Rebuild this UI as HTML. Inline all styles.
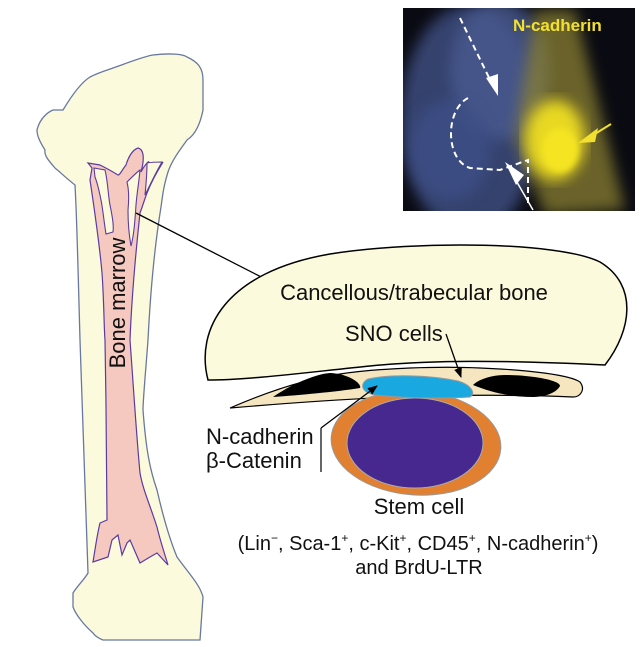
<!DOCTYPE html>
<html><head><meta charset="utf-8"><style>
body{margin:0;background:#fff;}
svg{display:block;font-family:"Liberation Sans",sans-serif;}
</style></head><body>
<svg width="640" height="647" viewBox="0 0 640 647" xmlns="http://www.w3.org/2000/svg">
<defs>
<filter id="bf"><feGaussianBlur stdDeviation="7"/></filter>
<filter id="bf2"><feGaussianBlur stdDeviation="3"/></filter>
<clipPath id="cp"><rect x="403" y="8" width="232" height="203"/></clipPath>
<marker id="ah" markerWidth="10" markerHeight="8" refX="9" refY="4" orient="auto" markerUnits="userSpaceOnUse"><path d="M0,0 L10,4 L0,8 z" fill="#000"/></marker>
</defs>
<!-- bone -->
<path d="M37,130 C40,118 48,112 53,110 L63,110 C72,95 82,82 90,77 C100,72 108,70 113,68 C130,62 145,56 153,55 C170,53 183,54 187,57 C198,62 203,68 203,80 L203,110 C200,125 195,135 187,140 C180,150 172,160 168,172 C164,185 163,192 161,207 C154,250 150,300 148,340 C145,380 143,400 143,410 C146,450 150,470 157,490 C165,525 172,545 177,557 C190,575 200,585 203,597 L200,640 L103,640 C98,638 95,636 93,633 C84,625 76,615 73,607 L73,593 C78,585 84,580 88,573 C86,500 83,420 80,340 C78,270 77,220 75,185 C66,178 60,172 55,168 C48,160 44,155 45,150 C40,142 37,136 37,130 Z" fill="#fcfadc" stroke="#6878a0" stroke-width="1.3"/>
<!-- marrow -->
<path d="M88,163 L92,168 L90,180 C96,220 100,250 102,273 C104,300 104,330 105,340 C106,400 107,470 107,520 L100,523 C97,535 95,550 93,562 L108,557 L112,540 L118,535 L122,555 L127,543 L130,540 L140,563 L150,557 L157,553 L168,565 C165,555 160,540 157,527 C150,505 143,490 140,473 C136,430 133,380 130,340 C132,290 136,250 140,213 C143,205 145,198 147,193 C152,180 158,170 163,162 L150,176 C148,168 150,160 148,162 C145,165 142,170 141,172 C143,165 146,150 138,148 C132,150 128,158 126,165 C122,170 120,175 118,175 C110,170 106,168 100,165 Z" fill="#f5c8c0" stroke="#5a3ca0" stroke-width="1.2"/>
<path d="M94,168 L105,170 C108,182 108,195 110,205 C112,215 114,225 113,232 L106,234 C104,222 103,210 101,200 C99,190 97,182 95,177 Z" fill="#fcfadc" stroke="#5a3ca0" stroke-width="1.1"/>
<path d="M127,182 C132,177 137,172 140,170 C139,182 137,192 136,205 C135,220 134,235 131,246 C129,235 128,222 128,210 C129,200 129,190 127,182 Z" fill="#fcfadc" stroke="#5a3ca0" stroke-width="1.1"/>
<path d="M147,163 C152,162 158,162 162,162 C156,172 150,185 145,195 C146,185 147,175 147,163 Z" fill="#fcfadc" stroke="#5a3ca0" stroke-width="1.1"/>
<text transform="translate(125,303) rotate(-90)" text-anchor="middle" font-size="22" fill="#111">Bone marrow</text>
<!-- connector -->
<line x1="136" y1="213" x2="271" y2="282" stroke="#000" stroke-width="1.3" marker-end="url(#ah)"/>
<!-- photo -->
<rect x="403" y="8" width="232" height="203" fill="#0a0b12"/>
<g clip-path="url(#cp)">
<ellipse cx="470" cy="120" rx="70" ry="115" fill="#34426e" filter="url(#bf)"/>
<ellipse cx="500" cy="70" rx="50" ry="70" fill="#4a5a90" opacity="0.8" filter="url(#bf)"/>
<ellipse cx="450" cy="150" rx="40" ry="50" fill="#3e4f88" opacity="0.8" filter="url(#bf)"/>
<path d="M535,10 L575,10 L625,210 L545,215 L515,140 Z" fill="#8a8030" opacity="0.75" filter="url(#bf)"/>
<ellipse cx="555" cy="140" rx="30" ry="40" fill="#e8d820" filter="url(#bf)"/>
<ellipse cx="560" cy="150" rx="18" ry="22" fill="#f4e420" filter="url(#bf2)"/>
</g>
<text x="513" y="31" font-size="17" font-weight="bold" fill="#f2e030">N-cadherin</text>
<path d="M460,18 L494,88" stroke="#fff" stroke-width="2" stroke-dasharray="6,4" fill="none"/>
<path d="M486,78 L498,96 L498,74 Z" fill="#fff"/>
<path d="M468,98 C445,110 445,160 470,168 L500,170 L528,160 L528,205" stroke="#fff" stroke-width="2" stroke-dasharray="6,4" fill="none"/>
<line x1="533" y1="210" x2="510" y2="170" stroke="#fff" stroke-width="1.5"/>
<path d="M505,162 L516,185 L524,175 Z" fill="#fff"/>
<line x1="611" y1="124" x2="590" y2="137" stroke="#f2e030" stroke-width="2"/>
<path d="M578,143 L598,128 L595,142 Z" fill="#f2e030"/>
<!-- right diagram -->
<path d="M208,380 C195,330 225,272 330,254 C420,240 560,242 600,262 C638,285 632,330 605,365 C500,360 430,360 370,366 C310,372 250,380 208,380 Z" fill="#fcfadc" stroke="#000" stroke-width="1.5"/>
<path d="M230,408 C260,395 300,380 340,374 C380,368 440,366 480,368 C530,370 570,375 580,382 C586,390 580,397 573,397 C530,395 470,395 420,396 C360,398 300,402 230,408 Z" fill="#f5e6c0" stroke="#000" stroke-width="1.2"/>
<path d="M273,397 C290,385 315,374 330,373 C350,374 362,384 360,388 C335,392 300,395 273,397 Z" fill="#000"/>
<path d="M473,385 C480,378 495,375 505,375 C530,375 560,380 560,386 C555,395 540,397 533,397 C510,397 490,392 473,385 Z" fill="#000"/>
<ellipse cx="416" cy="443" rx="85" ry="52" fill="#e08030" stroke="#999" stroke-width="1" transform="rotate(4 416 443)"/>
<ellipse cx="415" cy="443" rx="68" ry="45" fill="#46288e" stroke="#aaa" stroke-width="1"/>
<path d="M368,379 C390,374 430,375 458,381 C472,385 476,394 470,397 C440,399 400,398 375,395 C360,392 360,383 368,379 Z" fill="#1aa8e0" stroke="#999" stroke-width="1"/>
<text x="414" y="300" font-size="22" text-anchor="middle" fill="#111">Cancellous/trabecular bone</text>
<text x="345" y="341" font-size="22" fill="#111">SNO cells</text>
<line x1="446" y1="334" x2="461" y2="377" stroke="#000" stroke-width="1.3" marker-end="url(#ah)"/>
<line x1="321" y1="428" x2="377" y2="386" stroke="#000" stroke-width="1.3" marker-end="url(#ah)"/>
<line x1="321" y1="428" x2="321" y2="472" stroke="#000" stroke-width="1.2"/>
<text x="206" y="444" font-size="22" fill="#111">N-cadherin</text>
<text x="206" y="468" font-size="22" fill="#111">β-Catenin</text>
<text x="419" y="514" font-size="22" text-anchor="middle" fill="#111">Stem cell</text>
<text x="418" y="550" font-size="20" text-anchor="middle" fill="#111">(Lin<tspan font-size="12" dy="-8">−</tspan><tspan dy="8">, Sca-1</tspan><tspan font-size="12" dy="-8">+</tspan><tspan dy="8">, c-Kit</tspan><tspan font-size="12" dy="-8">+</tspan><tspan dy="8">, CD45</tspan><tspan font-size="12" dy="-8">+</tspan><tspan dy="8">, N-cadherin</tspan><tspan font-size="12" dy="-8">+</tspan><tspan dy="8">)</tspan></text>
<text x="419" y="574" font-size="20" text-anchor="middle" fill="#111">and BrdU-LTR</text>
</svg>
</body></html>
